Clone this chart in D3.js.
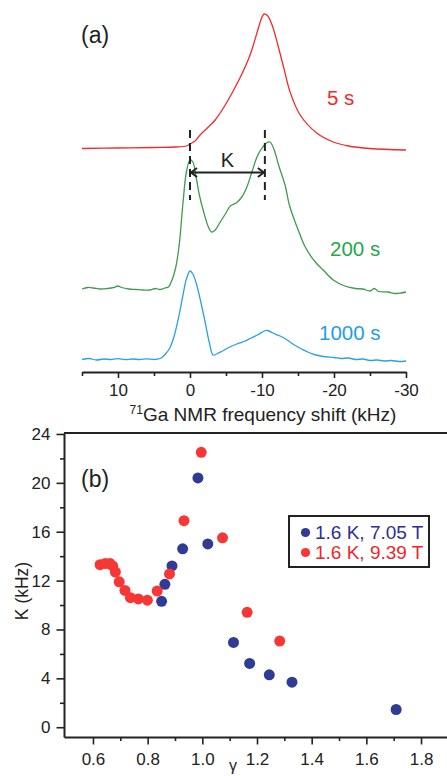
<!DOCTYPE html>
<html>
<head>
<meta charset="utf-8">
<script src="https://cdn.jsdelivr.net/npm/d3@7"></script>
<style>
  html, body { margin: 0; padding: 0; background: #fff; }
  svg { display: block; font-family: "Liberation Sans", Arial, sans-serif; }
</style>
</head>
<body>
<svg id="chart" width="447" height="776"></svg>
<script>
// ---- panel (a): NMR spectra, [shift kHz, intensity a.u. above own baseline]
const spec5s = [[15,0],[10,0.5],[5,1],[2,1.5],[0.5,2.5],[0,4.5],[-0.7,7.5],[-1.4,13.5],[-2.4,20.5],[-3.5,28.5],[-5.1,46],[-6.9,70],[-8.1,89],[-8.8,103.5],[-9.5,120.5],[-10.0,131.5],[-10.3,134.5],[-10.8,132.5],[-11.4,123.5],[-12.2,103.5],[-13.1,78.5],[-13.9,56.5],[-15.3,33.5],[-17.6,15.5],[-19.9,6.5],[-22,2.5],[-25,0],[-30,-1.5]];
const spec200s = [[15,-1],[14.2,0.5],[13.4,0],[12.5,-1],[11.5,-0.5],[10.5,0.7],[10,2],[9.5,0.5],[8.5,-1],[7.5,-1.5],[6.5,-2],[5.5,-2],[4.8,-0.5],[4.2,-1.5],[3.5,0],[3,1],[2.5,8],[2,20],[1.5,43],[1,83],[0.5,116],[0,128],[-0.4,126],[-0.8,113],[-1.3,93],[-1.9,76],[-2.5,62],[-3.0,56],[-3.5,58],[-4.2,66],[-5.0,75],[-5.6,82],[-6.4,85],[-7.2,91],[-7.9,101],[-8.6,116],[-9.3,131],[-10.0,140],[-10.6,145],[-11.1,146],[-11.7,138],[-12.3,123],[-13.2,103],[-13.8,83],[-14.6,66],[-15.3,53],[-16.0,41],[-17.4,26],[-18.5,18],[-19.9,8],[-21.5,2],[-23,-0.5],[-24,-1],[-25,-3],[-25.6,-0.5],[-26.2,-3.5],[-27.5,-4],[-28.5,-5.5],[-29.3,-5],[-30,-4]];
const spec1000s = [[15,-0.5],[14,0.5],[13,-1],[12,0],[11,-0.5],[10,0.3],[9,-0.7],[8,0],[7,-0.5],[6,0.2],[5,-0.5],[4.5,0],[4,1],[3.4,5],[2.8,11],[2.2,23],[1.6,41],[1.0,63],[0.5,80],[0,88],[-0.4,85],[-0.9,75],[-1.5,57],[-2.1,37],[-2.7,16],[-3.2,4],[-3.7,5],[-4.5,8],[-5.5,12],[-6.5,15],[-7.5,17.5],[-8.5,21],[-9.5,24.5],[-10.3,28],[-10.8,28.5],[-11.5,26],[-12.5,23],[-13.5,19],[-14.5,14],[-15.5,10],[-16.5,6.5],[-17.5,4],[-18.5,2.5],[-20,1.5],[-21,0.5],[-22,1],[-23,-0.5],[-24,0],[-25,-1.5],[-26,-1],[-27,-2],[-28,-1.5],[-29,-2.5],[-30,-2]];
const specLabels = ['5 s', '200 s', '1000 s'];
const specOffsets = [223.5, 84, 13];
const shiftTicks = [10, 0, -10, -20, -30];
const shiftMinor = [15, 5, -5, -15, -25];
const kMarks = [0, -10.4];

// ---- panel (b): K vs gamma
const gamma705 = [0.851, 0.863, 0.889, 0.928, 0.984, 1.020, 1.114, 1.173, 1.245, 1.328, 1.709];
const k705     = [10.3, 11.7, 13.2, 14.6, 20.4, 15.0, 6.94, 5.22, 4.29, 3.69, 1.45];
const gamma939 = [0.626, 0.645, 0.662, 0.672, 0.682, 0.696, 0.717, 0.737, 0.766, 0.799, 0.835, 0.880, 0.933, 0.996, 1.074, 1.164, 1.283];
const k939     = [13.3, 13.4, 13.4, 13.2, 12.7, 11.9, 11.2, 10.6, 10.5, 10.4, 11.15, 12.55, 16.9, 22.5, 15.5, 9.4, 7.05];
const seriesNames = ['1.6 K, 7.05 T', '1.6 K, 9.39 T'];
const kTicks = [0, 4, 8, 12, 16, 20, 24];
const kMinor = [2, 6, 10, 14, 18, 22];
const gammaTicks = [0.6, 0.8, 1.0, 1.2, 1.4, 1.6, 1.8];
const gammaMinor = [0.7, 0.9, 1.1, 1.3, 1.5, 1.7];

const svg = d3.select('#chart');
const ink = '#222';

// ================= panel (a) =================
const xA = d3.scaleLinear().domain([15, -30]).range([82, 406]);
const yA = d3.scaleLinear().domain([0, 360]).range([372, 12]);

const traceColors = ['#f22a2a', '#3f9b4f', '#2ba0e3'];
const labelColors = ['#f42a2a', '#25a84a', '#1f9ee6'];
const traces = [spec5s, spec200s, spec1000s];

traces.forEach((tr, i) => {
  const line = d3.line()
    .x(d => xA(d[0]))
    .y(d => yA(d[1] + specOffsets[i]))
    .curve(d3.curveCatmullRom.alpha(0.5));
  svg.append('path')
    .datum(tr)
    .attr('d', line)
    .attr('fill', 'none')
    .attr('stroke', traceColors[i])
    .attr('stroke-width', 1.3);
});

// trace labels
const labelPos = [[327, 105], [330, 256], [319, 340]];
specLabels.forEach((t, i) => {
  svg.append('text')
    .attr('x', labelPos[i][0]).attr('y', labelPos[i][1])
    .attr('font-size', 20.5)
    .attr('fill', labelColors[i])
    .text(t);
});

// K marker: dashed lines + double arrow
kMarks.forEach(k => {
  svg.append('line')
    .attr('x1', xA(k)).attr('x2', xA(k))
    .attr('y1', 130).attr('y2', 200)
    .attr('stroke', ink).attr('stroke-width', 2)
    .attr('stroke-dasharray', '8,5');
});
const ay = 172.5;
const ax0 = xA(kMarks[0]), ax1 = xA(kMarks[1]);
svg.append('line')
  .attr('x1', ax0).attr('x2', ax1).attr('y1', ay).attr('y2', ay)
  .attr('stroke', ink).attr('stroke-width', 2);
svg.append('path')
  .attr('d', `M${ax0 + 7},${ay - 4.5} L${ax0 + 1},${ay} L${ax0 + 7},${ay + 4.5}
              M${ax1 - 7},${ay - 4.5} L${ax1 - 1},${ay} L${ax1 - 7},${ay + 4.5}`)
  .attr('fill', 'none').attr('stroke', ink).attr('stroke-width', 2);
svg.append('text')
  .attr('x', (ax0 + ax1) / 2).attr('y', 167)
  .attr('text-anchor', 'middle').attr('font-size', 20).attr('fill', ink)
  .text('K');

svg.append('text')
  .attr('x', 81).attr('y', 43)
  .attr('font-size', 23).attr('fill', ink)
  .text('(a)');

// x axis (a)
const gA = svg.append('g').attr('transform', 'translate(0,372)');
gA.call(d3.axisBottom(xA).tickValues(shiftTicks).tickSize(6).tickSizeOuter(0)
  .tickPadding(6).tickFormat(d => String(d)));
gA.append('g').call(d3.axisBottom(xA).tickValues(shiftMinor).tickSize(4)
  .tickSizeOuter(0).tickFormat(''))
  .select('.domain').remove();
gA.selectAll('.domain').attr('stroke', ink).attr('stroke-width', 2);
gA.selectAll('.tick line').attr('stroke', ink).attr('stroke-width', 1.6);
gA.selectAll('.tick text').attr('font-size', 17).attr('fill', ink)
  .attr('font-family', '"Liberation Sans", Arial, sans-serif');

const titleA = svg.append('text')
  .attr('x', 263).attr('y', 421)
  .attr('text-anchor', 'middle').attr('font-size', 19).attr('fill', ink);
titleA.append('tspan').attr('font-size', 12).attr('dy', -7).text('71');
titleA.append('tspan').attr('dy', 7).text('Ga NMR frequency shift (kHz)');

// ================= panel (b) =================
const xB = d3.scaleLinear().domain([0.494, 1.895]).range([64, 447]);
const yB = d3.scaleLinear().domain([-0.8, 24.08]).range([737, 433]);

// frame top line
svg.append('line')
  .attr('x1', xB.range()[0]).attr('x2', xB.range()[1])
  .attr('y1', yB(24.08)).attr('y2', yB(24.08))
  .attr('stroke', ink).attr('stroke-width', 2);

const gL = svg.append('g').attr('transform', 'translate(64,0)');
gL.call(d3.axisLeft(yB).tickValues(kTicks).tickSize(7.5).tickSizeOuter(0).tickPadding(6));
gL.append('g').call(d3.axisLeft(yB).tickValues(kMinor).tickSize(4).tickSizeOuter(0).tickFormat(''))
  .select('.domain').remove();

const gB = svg.append('g').attr('transform', 'translate(0,737)');
gB.call(d3.axisBottom(xB).tickValues(gammaTicks).tickSize(7.5).tickSizeOuter(0)
  .tickPadding(8).tickFormat(d3.format('.1f')));
gB.append('g').call(d3.axisBottom(xB).tickValues(gammaMinor).tickSize(4).tickSizeOuter(0).tickFormat(''))
  .select('.domain').remove();

[gL, gB].forEach(g => {
  g.selectAll('.domain').attr('stroke', ink).attr('stroke-width', 2);
  g.selectAll('.tick line').attr('stroke', ink).attr('stroke-width', 1.6);
  g.selectAll('.tick text').attr('font-size', 17).attr('fill', ink)
    .attr('font-family', '"Liberation Sans", Arial, sans-serif');
});

svg.append('text')
  .attr('transform', 'translate(28,591) rotate(-90)')
  .attr('text-anchor', 'middle').attr('font-size', 17.5).attr('fill', ink)
  .text('K (kHz)');
// x title sits at the bottom edge; kept fully inside the page
svg.append('text')
  .attr('x', 233).attr('y', 771)
  .attr('text-anchor', 'middle').attr('font-size', 16).attr('fill', ink)
  .text('γ');
svg.append('text')
  .attr('x', 81).attr('y', 487)
  .attr('font-size', 23).attr('fill', ink)
  .text('(b)');

const pointColors = ['#2f3b94', '#f73636'];
const textColors = ['#2a2e98', '#f0262a'];
const series = [
  gamma705.map((g, i) => [g, k705[i]]),
  gamma939.map((g, i) => [g, k939[i]])
];
series.forEach((pts, si) => {
  svg.append('g').selectAll('circle')
    .data(pts)
    .enter()
    .append('circle')
    .attr('cx', d => xB(d[0]))
    .attr('cy', d => yB(d[1]))
    .attr('r', 5.5)
    .attr('fill', pointColors[si]);
});

// legend
const lg = svg.append('g').attr('transform', 'translate(289,516)');
lg.append('rect')
  .attr('width', 140).attr('height', 51)
  .attr('fill', '#fff').attr('stroke', ink).attr('stroke-width', 2);
seriesNames.forEach((name, i) => {
  lg.append('circle')
    .attr('cx', 16.5).attr('cy', 16.5 + i * 20)
    .attr('r', 4.6).attr('fill', pointColors[i]);
  lg.append('text')
    .attr('x', 26).attr('y', 23 + i * 20)
    .attr('font-size', 19).attr('fill', textColors[i])
    .text(name);
});
</script>
</body>
</html>
